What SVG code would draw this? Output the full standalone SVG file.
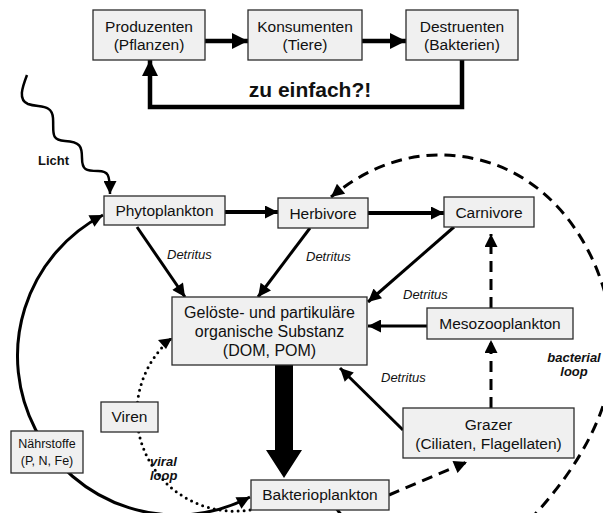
<svg xmlns="http://www.w3.org/2000/svg" width="603" height="513" viewBox="0 0 603 513">
<style>
.box{fill:#f0f0f0;stroke:#2b2b2b;stroke-width:1.3}
text{font-family:"Liberation Sans",Arial,sans-serif;fill:#111}
.t{font-size:15.5px;text-anchor:middle}
.t16{font-size:16px;text-anchor:middle}
.t12{font-size:12.5px;text-anchor:middle}
.det{font-size:13px;font-style:italic}
.bi{font-size:13px;font-style:italic;font-weight:bold}
.c{fill:none;stroke:#000}
.s3{stroke-width:3}
.s4{stroke-width:4}
.dash{stroke-width:3;stroke-dasharray:11 7}
.dot{stroke-width:3;stroke-dasharray:0 6;stroke-linecap:round}
</style>
<defs>
<marker id="ah" viewBox="0 0 10 10" refX="10" refY="5" markerWidth="15" markerHeight="13" markerUnits="userSpaceOnUse" orient="auto"><path d="M0,0 L10,5 L0,10 z" fill="#000"/></marker>
<marker id="ahs" viewBox="0 0 10 10" refX="10" refY="5" markerWidth="15" markerHeight="13" markerUnits="userSpaceOnUse" orient="auto-start-reverse"><path d="M0,0 L10,5 L0,10 z" fill="#000"/></marker>
<marker id="ahL" viewBox="0 0 10 10" refX="10" refY="5" markerWidth="16" markerHeight="18" markerUnits="userSpaceOnUse" orient="auto"><path d="M0,0 L10,5 L0,10 z" fill="#000"/></marker>
</defs>
<g id="connectors">
<path class="c" stroke-width="4.5" d="M205,41 H248" marker-end="url(#ahL)"/>
<path class="c" stroke-width="4.5" d="M362,41 H406" marker-end="url(#ahL)"/>
<path class="c" stroke-width="4.5" d="M462,60 V107 H150 V60" marker-end="url(#ahL)"/>
<path class="c" stroke-width="2.5" d="M27,75 C22,88 18,100 28,104 C40,108 52,104 53,118 C54,132 50,140 65,141 C80,142 82,146 82,158 C82,170 86,171 98,171 C108,171 110,174 110,194" marker-end="url(#ah)"/>
<path class="c s4" d="M225,212 H278" marker-end="url(#ah)"/>
<path class="c s4" d="M368,213 H444" marker-end="url(#ah)"/>
<path class="c s3" d="M137,227 L185,297" marker-end="url(#ah)"/>
<path class="c s3" d="M310,228 L258,297" marker-end="url(#ah)"/>
<path class="c s3" d="M454,227 L368,302" marker-end="url(#ah)"/>
<path class="c s3" d="M427,326 H368" marker-end="url(#ah)"/>
<path class="c s3" d="M403,430 L340,368" marker-end="url(#ah)"/>
<polygon points="275,365 293,365 293,450 302,450 284,478 266,450 275,450" fill="#000"/>
<path class="c dash" d="M491,308 V234" marker-end="url(#ah)"/>
<path class="c dash" d="M491,408 V340" marker-end="url(#ah)"/>
<path class="c dash" d="M389,495 L467,462" marker-end="url(#ah)"/>
<path class="c dash" d="M336,508 C380,570 470,560 520,530 C580,470 620,400 612,330 C605,260 560,180 480,160 C420,145 370,165 331,197" marker-end="url(#ah)"/>
<path class="c s3" d="M250,497 A158,158 0 1 1 103,215" marker-start="url(#ahs)" marker-end="url(#ah)"/>
<path class="c dot" d="M250,510 A98,98 0 0 1 172,338"/>
<path d="M172,338 L158,340 L166,349 z" fill="#000"/>
</g>
<g id="produzenten"><rect class="box" x="93" y="10" width="112" height="50"/><text class="t" x="149" y="32">Produzenten</text><text class="t" x="149" y="50">(Pflanzen)</text></g>
<g id="konsumenten"><rect class="box" x="248" y="10" width="114" height="50"/><text class="t" x="305" y="32">Konsumenten</text><text class="t" x="305" y="50">(Tiere)</text></g>
<g id="destruenten"><rect class="box" x="406" y="10" width="112" height="50"/><text class="t" x="462" y="32">Destruenten</text><text class="t" x="462" y="50">(Bakterien)</text></g>
<text x="310" y="97" text-anchor="middle" font-size="21" font-weight="bold">zu einfach?!</text>
<text x="38" y="165" font-size="13" font-weight="bold">Licht</text>
<g id="phytoplankton"><rect class="box" x="104" y="196" width="121" height="29"/><text class="t" x="164.5" y="216">Phytoplankton</text></g>
<g id="herbivore"><rect class="box" x="278" y="198" width="90" height="30"/><text class="t" x="323" y="219">Herbivore</text></g>
<g id="carnivore"><rect class="box" x="444" y="197" width="90" height="30"/><text class="t" x="489" y="218">Carnivore</text></g>
<g id="dom"><rect class="box" x="172" y="297" width="195" height="68"/><text class="t16" x="269.5" y="318">Gelöste- und partikuläre</text><text class="t16" x="269.5" y="337">organische Substanz</text><text class="t16" x="269.5" y="356">(DOM, POM)</text></g>
<g id="mesozooplankton"><rect class="box" x="427" y="308" width="146" height="31"/><text class="t" x="500" y="329">Mesozooplankton</text></g>
<g id="grazer"><rect class="box" x="403" y="408" width="171" height="50"/><text class="t" x="488.5" y="430">Grazer</text><text class="t" x="488.5" y="449">(Ciliaten, Flagellaten)</text></g>
<g id="bakterioplankton"><rect class="box" x="251" y="480" width="138" height="30"/><text class="t" x="320" y="500">Bakterioplankton</text></g>
<g id="viren"><rect class="box" x="101" y="402" width="57" height="30"/><text class="t" x="129.5" y="422">Viren</text></g>
<g id="naehrstoffe"><rect class="box" x="11" y="431" width="72" height="42"/><text class="t12" x="47" y="448">Nährstoffe</text><text class="t12" x="47" y="465">(P, N, Fe)</text></g>
<text class="det" x="167" y="259">Detritus</text>
<text class="det" x="306" y="261">Detritus</text>
<text class="det" x="403" y="299">Detritus</text>
<text class="det" x="381" y="382">Detritus</text>
<text class="bi" x="150" y="466">viral</text>
<text class="bi" x="150" y="480">loop</text>
<text class="bi" x="574" y="362" text-anchor="middle">bacterial</text>
<text class="bi" x="574" y="376" text-anchor="middle">loop</text>
</svg>
